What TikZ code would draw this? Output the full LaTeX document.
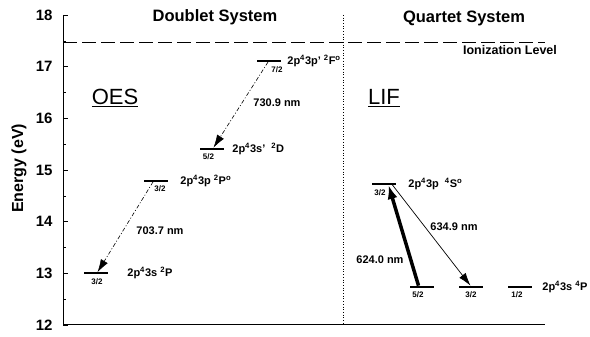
\documentclass[tikz,border=0pt]{standalone}
\usepackage{fontspec}
\setmainfont{Liberation Sans}
\usetikzlibrary{arrows.meta,positioning,calc}

\begin{document}
\begin{tikzpicture}[x=1pt, y=51.67pt,
    level/.style={fill=black, minimum width=24pt, minimum height=1.8pt, inner sep=0pt},
    term/.style={font=\bfseries\fontsize{11}{13}\selectfont, inner sep=0pt},
    jval/.style={font=\bfseries\fontsize{8}{9}\selectfont, inner sep=1pt},
    lam/.style={font=\bfseries\fontsize{11}{13}\selectfont},
    big/.style={font=\fontsize{22}{26}\selectfont},
    head/.style={font=\bfseries\fontsize{16.5}{19}\selectfont},
    emis/.style={dash pattern=on 4pt off 2pt on 1pt off 2pt, line width=0.6pt, -{Latex[length=13pt,width=8pt]}}]
  \useasboundingbox (0,11.768) rectangle (590,18.290);
  % axes
  \coordinate (top) at (63,18);
  \coordinate (orig) at (63,12);
  \coordinate (xend) at (545,12);
  \draw[line width=1pt] (top) -- (orig) -- (xend);
  \foreach \e in {12,...,18}{
    \draw[line width=0.8pt] (63,\e) -- ++(5,0);
    \node[anchor=east, font=\bfseries\fontsize{15}{17}\selectfont] at (56,\e) {\e};
  }
  \foreach \e in {12.5,13.5,...,17.5}
    \draw[line width=0.6pt] (63,\e) -- ++(3,0);
  \node[rotate=90, font=\bfseries\fontsize{16}{18}\selectfont] at (19,15.03) {Energy (eV)};
  % separator and ionization limit
  \coordinate (septop) at (343,18);
  \coordinate (sepbot) at (343,12);
  \draw[dotted, line width=0.7pt] (septop) -- (sepbot);
  \coordinate (ionl) at (63,17.46);
  \coordinate (ionr) at (545,17.46);
  \draw[line width=1pt, dash pattern=on 14pt off 5pt] (ionl) -- (ionr);
  \node[font=\bfseries\fontsize{12.5}{14}\selectfont] (ion) at (510,17.32) {Ionization Level};
  \node[head] (dbl) at (215,17.96) {Doublet System};
  \node[head] (qrt) at (464,17.94) {Quartet System};
  \node[big] (oes) at (115,16.39) {\underline{OES}};
  \node[big] (lif) at (384,16.39) {\underline{LIF}};

  % doublet levels
  \node[level] (F72) at (269,17.11) {};
  \node[level] (D52) at (211.5,15.41) {};
  \node[level] (Po32) at (156,14.79) {};
  \node[level] (P32) at (95.5,13.00) {};
  \node[term, right=6pt of F72] (tF) {2p\textsuperscript{4}3p' \textsuperscript{2}F\textsuperscript{o}};
  \node[term, right=8.5pt of D52] (tD) {2p\textsuperscript{4}3s'\ \ \textsuperscript{2}D};
  \node[term, right=12pt of Po32] (tPo) {2p\textsuperscript{4}3p \textsuperscript{2}P\textsuperscript{o}};
  \node[term, right=19.5pt of P32] (tP) {2p\textsuperscript{4}3s \textsuperscript{2}P};
  \node[jval, below=3pt of F72, xshift=8pt] {7/2};
  \node[jval, below=3pt of D52, xshift=-3pt] {5/2};
  \node[jval, below=3pt of Po32, xshift=4pt] {3/2};
  \node[jval, below=3pt of P32, xshift=1.5pt] {3/2};
  \draw[emis] ([xshift=-1pt]F72.south) -- ([xshift=2pt]D52.north);
  \draw[emis] ([xshift=-3pt]Po32.south) -- ([xshift=2pt]P32.north);
  \node[lam] (w1) at (277,16.30) {730.9 nm};
  \node[lam] (w2) at (160,13.82) {703.7 nm};

  % quartet levels
  \node[level] (S32) at (383.5,14.73) {};
  \node[level] (Q52) at (421.5,12.74) {};
  \node[level] (Q32) at (470.5,12.74) {};
  \node[level] (Q12) at (520,12.74) {};
  \node[term, right=12.5pt of S32] (tS) {2p\textsuperscript{4}3p\ \ \textsuperscript{4}S\textsuperscript{o}};
  \node[term, right=10pt of Q12] (tQ) {2p\textsuperscript{4}3s \textsuperscript{4}P};
  \node[jval, below=3pt of S32, xshift=-3.5pt] {3/2};
  \node[jval, below=3pt of Q52, xshift=-3.5pt] {5/2};
  \node[jval, below=3pt of Q32, xshift=0.5pt] {3/2};
  \node[jval, below=3pt of Q12, xshift=-3pt] {1/2};
  \draw[line width=3.5pt, -{Latex[length=14pt,width=10pt]}] ([xshift=-3pt]Q52.north) -- ([xshift=5pt]S32.south);
  \draw[line width=0.7pt, -{Latex[length=13pt,width=8pt]}] ([xshift=9pt]S32.south) -- (Q32.north);
  \node[lam] (w3) at (380,13.26) {624.0 nm};
  \node[lam] (w4) at (454,13.90) {634.9 nm};
\end{tikzpicture}
\end{document}
